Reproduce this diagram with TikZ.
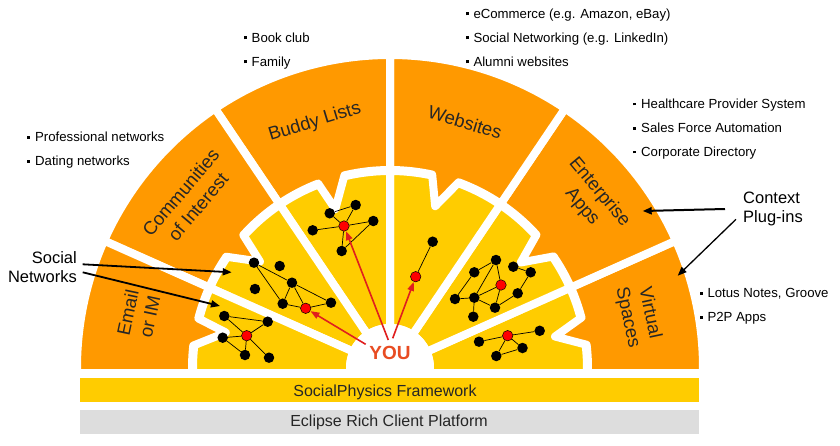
\documentclass[tikz,border=0pt]{standalone}
\usepackage{fontspec}
\setmainfont{Liberation Sans}
\usetikzlibrary{arrows.meta}
\definecolor{org}{HTML}{FF9900}
\definecolor{ylw}{HTML}{FFCC00}
\definecolor{gry}{HTML}{DDDDDD}
\definecolor{youc}{HTML}{E84C22}
\definecolor{arrred}{HTML}{E01E1E}
\newcommand\bul{\raisebox{3pt}{\rule{3pt}{3pt}}\hspace{5pt}}
\begin{document}
\begin{tikzpicture}[x=1pt,y=1pt,
  bn/.style={circle,fill=black,inner sep=0pt,minimum size=10.5pt},
  rn/.style={circle,fill=red,draw=black,line width=0.5pt,inner sep=0pt,minimum size=10.5pt},
  edge/.style={draw=black,line width=0.7pt},
  ysec/.style={fill=ylw,draw=white,line width=8pt,line join=round},
  osec/.style={fill=org,draw=white,line width=8pt,line join=round},
  lbl/.style={font=\fontsize{18.5}{22.5}\selectfont,text=black!85,align=center,inner sep=0pt},
  blt/.style={font=\fontsize{13.2}{15}\selectfont,anchor=base west,inner sep=0pt},
  side/.style={font=\fontsize{16.5}{19}\selectfont,inner sep=0pt},
  bartext/.style={font=\fontsize{16}{18}\selectfont,text=black!85,anchor=base,inner sep=0pt},
  redarr/.style={draw=arrred,line width=1.6pt,-{Triangle[length=9pt,width=6.5pt]}},
  blkarr/.style={draw=black,line width=1.8pt,-{Triangle[length=9pt,width=7pt]}},
]
\useasboundingbox (-390,-77) rectangle (450,368);
% ---------- polar part (origin at the centre of the half disc)
\begin{scope}
  \clip (-330,0) rectangle (330,330);
  \foreach \a/\b in {-15/24, 24/56, 56/90, 90/124, 124/156, 156/195} {
    \path[ysec] (\a:40) arc[start angle=\a, end angle=\b, radius=40]
      -- (\b:197) arc[start angle=\b, end angle=\a, radius=197] -- cycle;
  }
  \foreach \a/\b/\p/\t in {-15/24/10.75/10.8, 24/56/38.3/38.9, 56/90/73.7/74.4,
                           90/124/107.3/109, 124/156/141.8/140.7, 156/195/169.5/167.8} {
    \pgfmathsetmacro\pa{\p+4}
    \pgfmathsetmacro\pb{\p-4}
    \path[osec] (\a:313) arc[start angle=\a, end angle=\b, radius=313]
      -- (\b:198) arc[start angle=\b, end angle=\pa, radius=198]
      -- (\t:168) -- (\pb:198) arc[start angle=\pb, end angle=\a, radius=198] -- cycle;
  }
  \fill[white] (0,0) circle[radius=44];
\end{scope}
\node[lbl,rotate=78]  (lemail) at (168:257) {Email\\or IM};
\node[lbl,rotate=50]  (lcomm)  at (140:262) {Communities\\of Interest};
\node[lbl,rotate=17]  (lbuddy) at (107:257) {Buddy Lists};
\node[lbl,rotate=-17] (lweb)   at (73:257)  {Websites};
\node[lbl,rotate=-50] (lent)   at (40:262)  {Enterprise\\Apps};
\node[lbl,rotate=-78] (lvirt)  at (12:254)  {Virtual\\Spaces};
% ---------- pixel part (x right, y down, origin top-left of the image)
\begin{scope}[shift={(-390,368)},yscale=-1]
  \fill[ylw] (80,378) rectangle (699,402);
  \fill[gry] (80,410) rectangle (699,434);
  \node[bartext] (spf) at (385,396) {SocialPhysics Framework};
  \node[bartext] (erc) at (389,426.7) {Eclipse Rich Client Platform};
  % Buddy network
  \node[bn] (a1) at (329.7,213.3) {};
  \node[bn] (a2) at (355.7,205) {};
  \node[bn] (a3) at (373.3,221) {};
  \node[rn] (ra) at (344,226) {};
  \node[bn] (a4) at (312.7,230.3) {};
  \node[bn] (a5) at (341.7,251) {};
  \foreach \u/\v in {a1/a2,a1/ra,a2/ra,ra/a3,ra/a4,ra/a5,a3/a5} \draw[edge] (\u)--(\v);
  % Communities network
  \node[bn] (b1) at (254,262.7) {};
  \node[bn] (b2) at (279.7,266) {};
  \node[bn] (b3) at (255,289) {};
  \node[bn] (b4) at (292,282.7) {};
  \node[bn] (b5) at (282.7,303.7) {};
  \node[rn] (rb) at (305.7,308.3) {};
  \node[bn] (b6) at (331,302.7) {};
  \foreach \u/\v in {b1/b4,b1/b5,b4/b5,b4/rb,b4/b6,b5/rb,rb/b6} \draw[edge] (\u)--(\v);
  % Email network
  \node[bn] (c1) at (224.3,316) {};
  \node[bn] (c2) at (267.7,321.7) {};
  \node[bn] (c3) at (222.7,337.7) {};
  \node[rn] (rc) at (246.7,335.7) {};
  \node[bn] (c4) at (245,355) {};
  \node[bn] (c5) at (269,357.7) {};
  \foreach \u/\v in {c1/c2,c1/rc,c2/rc,c3/rc,rc/c4,rc/c5,c3/c4} \draw[edge] (\u)--(\v);
  % Websites network
  \node[bn] (d1) at (432.7,241.7) {};
  \node[rn] (rd) at (415.7,276.7) {};
  \draw[edge] (d1)--(rd);
  % Enterprise network
  \node[bn] (e1) at (474.3,272.3) {};
  \node[bn] (e2) at (496,260) {};
  \node[bn] (e3) at (513.3,266.7) {};
  \node[bn] (e4) at (530.7,272.3) {};
  \node[rn] (re) at (501,285) {};
  \node[bn] (e5) at (455,299) {};
  \node[bn] (e6) at (474.3,297.7) {};
  \node[bn] (e7) at (517.7,293.3) {};
  \node[bn] (e8) at (495,307.7) {};
  \node[bn] (e9) at (473.3,316.7) {};
  \foreach \u/\v in {e1/e5,e1/e2,e2/e6,e2/re,e6/re,e5/e6,e6/e8,e6/e9,e8/e7,e7/e4,e3/e4,re/e8} \draw[edge] (\u)--(\v);
  % Virtual network
  \node[bn] (f1) at (479,341.7) {};
  \node[rn] (rf) at (507.7,335.7) {};
  \node[bn] (f2) at (539.7,330.8) {};
  \node[bn] (f3) at (522.5,348) {};
  \node[bn] (f4) at (496.3,356) {};
  \foreach \u/\v in {f1/rf,rf/f2,rf/f3,rf/f4,f3/f4} \draw[edge] (\u)--(\v);
  % YOU and its arrows
  \node[font=\bfseries\fontsize{19}{20}\selectfont,text=youc,inner sep=0pt] (you) at (390,352.5) {YOU};
  \coordinate (ys1) at (388.3,340);
  \coordinate (ys2) at (365.7,344.3);
  \coordinate (ys3) at (392.7,338.3);
  \draw[redarr] (ys1) -- (ra);
  \draw[redarr] (ys2) -- (rb);
  \draw[redarr] (ys3) -- (rd);
  % Social Networks
  \node[side,anchor=base east] (sn1) at (77,263) {Social};
  \node[side,anchor=base east] (sn2) at (77,282) {Networks};
  \coordinate (sa1) at (82.7,264.3);
  \coordinate (sa1e) at (231.7,272.3);
  \coordinate (sa2) at (82.7,272.3);
  \coordinate (sa2e) at (220,306);
  \draw[blkarr] (sa1) -- (sa1e);
  \draw[blkarr] (sa2) -- (sa2e);
  % Context Plug-ins
  \node[side,anchor=base west] (cp1) at (743,203) {Context};
  \node[side,anchor=base west] (cp2) at (743,222) {Plug-ins};
  \coordinate (ca1) at (725,209);
  \coordinate (ca1e) at (642.7,211);
  \coordinate (ca2) at (736,219.3);
  \coordinate (ca2e) at (677.7,275.7);
  \draw[blkarr,line width=2pt] (ca1) -- (ca1e);
  \draw[blkarr,line width=1.3pt] (ca2) -- (ca2e);
  % bullet lists
  \node[blt] (p1) at (27,141.7) {\bul Professional networks};
  \node[blt] (p2) at (27,165.7) {\bul Dating networks};
  \node[blt] (q1) at (243.5,42.3) {\bul Book club};
  \node[blt] (q2) at (243.5,66.3) {\bul Family};
  \node[blt] (w1) at (465.3,18.3) {\bul eCommerce (e.g. Amazon, eBay)};
  \node[blt] (w2) at (465.3,42.3) {\bul Social Networking (e.g. LinkedIn)};
  \node[blt] (w3) at (465.3,66.3) {\bul Alumni websites};
  \node[blt] (h1) at (633,108.5) {\bul Healthcare Provider System};
  \node[blt] (h2) at (633,132.5) {\bul Sales Force Automation};
  \node[blt] (h3) at (633,156.5) {\bul Corporate Directory};
  \node[blt] (v1) at (699.3,297.7) {\bul Lotus Notes, Groove};
  \node[blt] (v2) at (699.3,321.7) {\bul P2P Apps};
\end{scope}
\end{tikzpicture}
\end{document}
